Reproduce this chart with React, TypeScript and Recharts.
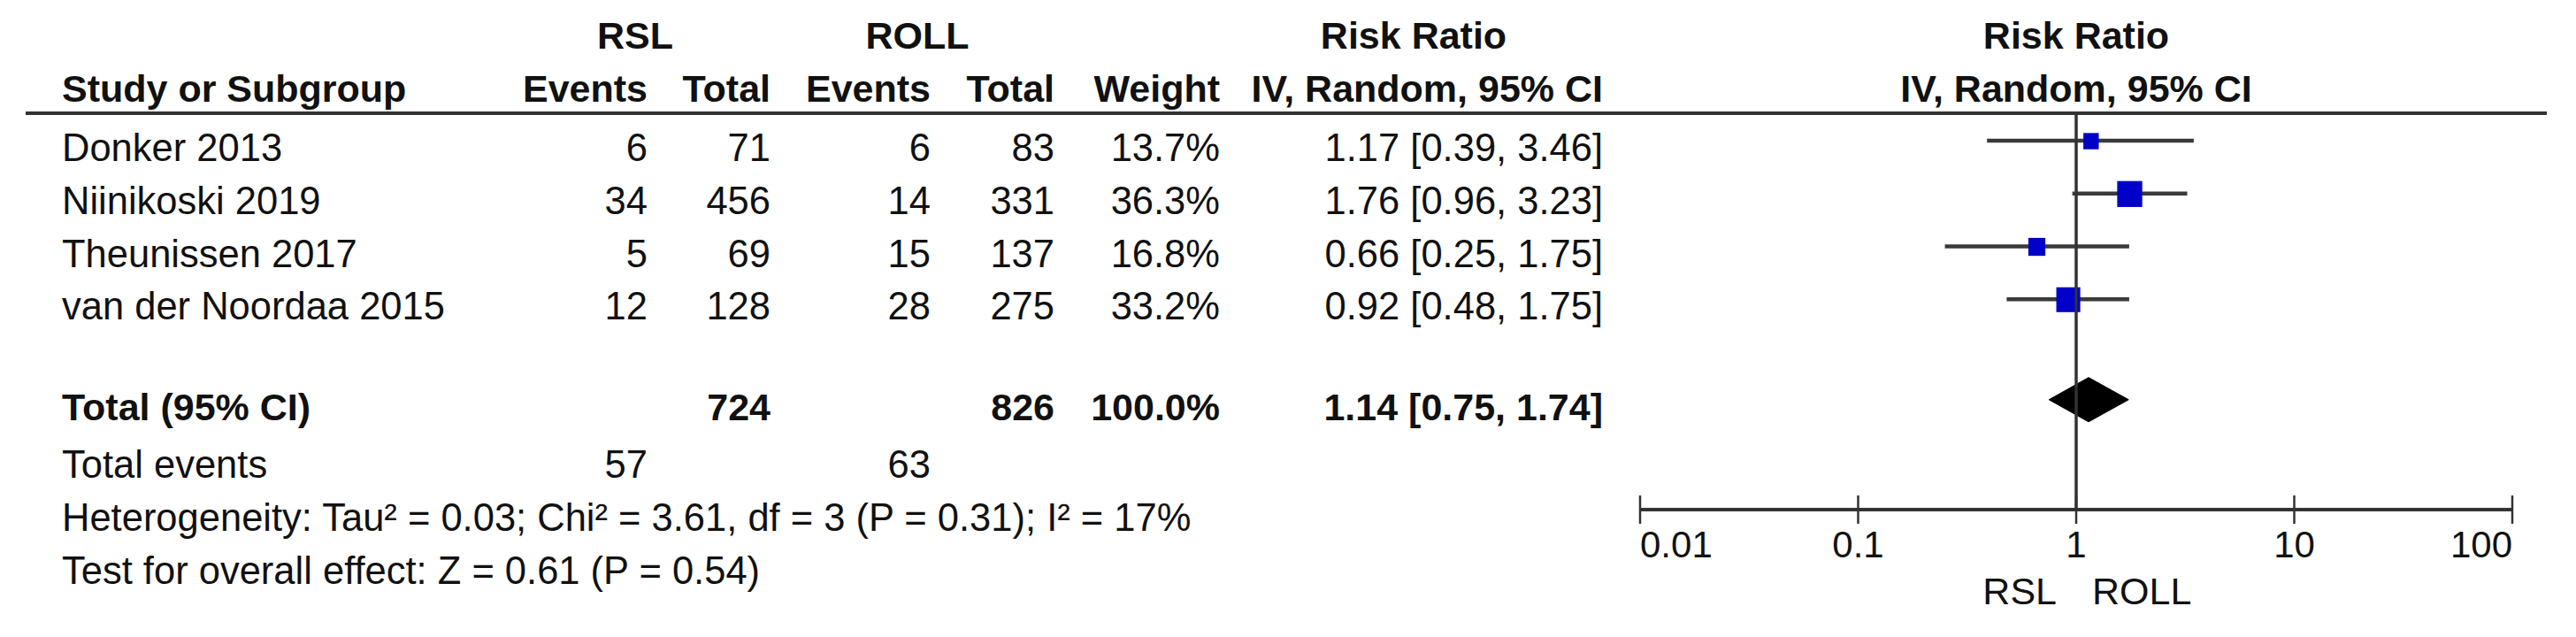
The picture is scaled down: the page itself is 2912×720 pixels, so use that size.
import {
  ComposedChart,
  Scatter,
  Area,
  Line,
  XAxis,
  YAxis,
} from "recharts";

const studies = ["Donker 2013", "Niinikoski 2019", "Theunissen 2017", "van der Noordaa 2015"];
const rslEvents = [6, 34, 5, 12];
const rslTotal = [71, 456, 69, 128];
const rollEvents = [6, 14, 15, 28];
const rollTotal = [83, 331, 137, 275];
const weights = [13.7, 36.3, 16.8, 33.2];
const riskRatio = [1.17, 1.76, 0.66, 0.92];
const ciLow = [0.39, 0.96, 0.25, 0.48];
const ciHigh = [3.46, 3.23, 1.75, 1.75];

const pooledRR = 1.14;
const pooledLow = 0.75;
const pooledHigh = 1.74;
const pooledRslTotal = 724;
const pooledRollTotal = 826;
const totalRslEvents = 57;
const totalRollEvents = 63;
const heterogeneityText = "Heterogeneity: Tau\u00b2 = 0.03; Chi\u00b2 = 3.61, df = 3 (P = 0.31); I\u00b2 = 17%";
const overallText = "Test for overall effect: Z = 0.61 (P = 0.54)";

const axisTicks = [0.01, 0.1, 1, 10, 100];
const noEffect = 1;

// layout
const W = 2912;
const H = 720;
const TOP = 128;
const AXIS_Y = 576;
const LEFT = 1854;
const RIGHT = 72;
const Y_MIN = -0.52;
const Y_MAX = 6.98;
const Y_MID = (Y_MIN + Y_MAX) / 2;
const TOTAL_ROW = 4.9;
const DIAMOND_HALF = 0.42;
const FONT = '"Liberation Sans", Arial, sans-serif';
const LINE = "#333";
const PLOT_H = AXIS_Y - TOP;

const rowPx = (v: number) => TOP + ((v - Y_MIN) * PLOT_H) / (Y_MAX - Y_MIN);
const baseline = (v: number) => rowPx(v) + 23;
// same log mapping as the x axis, used only for the overlay rule
const logPx = (v: number) =>
  LEFT + ((Math.log10(v) - Math.log10(axisTicks[0])) / (Math.log10(axisTicks[axisTicks.length - 1]) - Math.log10(axisTicks[0]))) * (W - RIGHT - LEFT);

const studyData = studies.map((s, i) => ({ x: riskRatio[i], y: i, w: weights[i] }));
const whiskers = studies.map((s, i) => [
  { x: ciLow[i], y: i },
  { x: ciHigh[i], y: i },
]);

const diamondData = [
  { x: pooledLow, band: [TOTAL_ROW, TOTAL_ROW] },
  { x: pooledRR, band: [TOTAL_ROW - DIAMOND_HALF, TOTAL_ROW + DIAMOND_HALF] },
  { x: pooledHigh, band: [TOTAL_ROW, TOTAL_ROW] },
];

// line of no effect: one point at mid height, drawn as a full-height rule
const nullPoint = [{ x: noEffect, y: Y_MID }];

const fmt = (v: number) => v.toFixed(2);
const ciText = (r: number, l: number, h: number) => `${fmt(r)} [${fmt(l)}, ${fmt(h)}]`;

function Square(props: any) {
  const { cx, cy, payload } = props;
  const side = 4.7 * Math.sqrt(payload.w);
  return <rect x={cx - side / 2} y={cy - side / 2} width={side} height={side + 1} fill="#0000c8" />;
}

function NullRule(props: any) {
  const { cx, cy } = props;
  return <rect x={cx - 1.5} y={cy - PLOT_H / 2} width={3} height={PLOT_H} fill={LINE} />;
}

function AxisTick(props: any) {
  const { x, y, payload, index } = props;
  const anchor = index === 0 ? "start" : index === axisTicks.length - 1 ? "end" : "middle";
  return (
    <g>
      <line x1={x} x2={x} y1={y - 16} y2={y + 16} stroke={LINE} strokeWidth={2.5} />
      <text x={x} y={y + 54} textAnchor={anchor} fontSize={42} fontFamily={FONT} fill="#111">
        {payload.value}
      </text>
      {payload.value === noEffect && (
        <g fontSize={43} fontFamily={FONT} fill="#111">
          <text x={x - 22} y={y + 107} textAnchor="end">RSL</text>
          <text x={x + 18} y={y + 107} textAnchor="start">ROLL</text>
        </g>
      )}
    </g>
  );
}

const COL = {
  name: 70,
  rslEv: 732,
  rslTot: 871,
  rollEv: 1052,
  rollTot: 1192,
  weight: 1379,
  ci: 1812,
};

function Table() {
  const t = { fontFamily: FONT, fontSize: 43.5, fill: "#111" };
  const b = { fontFamily: FONT, fontSize: 43, fontWeight: 700, fill: "#111" };
  const yt = baseline(TOTAL_ROW);
  const nx = logPx(noEffect);
  return (
    <svg width={W} height={H} style={{ position: "absolute", left: 0, top: 0, pointerEvents: "none" }}>
      <g {...b}>
        <text x={718} y={55} textAnchor="middle">RSL</text>
        <text x={1037} y={55} textAnchor="middle">ROLL</text>
        <text x={1598} y={55} textAnchor="middle">Risk Ratio</text>
        <text x={nx} y={55} textAnchor="middle">Risk Ratio</text>
        <text x={COL.name} y={115}>Study or Subgroup</text>
        <text x={COL.rslEv} y={115} textAnchor="end">Events</text>
        <text x={COL.rslTot} y={115} textAnchor="end">Total</text>
        <text x={COL.rollEv} y={115} textAnchor="end">Events</text>
        <text x={COL.rollTot} y={115} textAnchor="end">Total</text>
        <text x={COL.weight} y={115} textAnchor="end">Weight</text>
        <text x={COL.ci} y={115} textAnchor="end">IV, Random, 95% CI</text>
        <text x={nx} y={115} textAnchor="middle">IV, Random, 95% CI</text>
      </g>
      <line x1={29} x2={2879} y1={TOP} y2={TOP} stroke={LINE} strokeWidth={4} />
      <line x1={nx} x2={nx} y1={TOP} y2={AXIS_Y} stroke={LINE} strokeWidth={3} />
      {studies.map((s, i) => {
        const y = baseline(i);
        return (
          <g key={s} {...t}>
            <text x={COL.name} y={y}>{s}</text>
            <text x={COL.rslEv} y={y} textAnchor="end">{rslEvents[i]}</text>
            <text x={COL.rslTot} y={y} textAnchor="end">{rslTotal[i]}</text>
            <text x={COL.rollEv} y={y} textAnchor="end">{rollEvents[i]}</text>
            <text x={COL.rollTot} y={y} textAnchor="end">{rollTotal[i]}</text>
            <text x={COL.weight} y={y} textAnchor="end">{weights[i].toFixed(1)}%</text>
            <text x={COL.ci} y={y} textAnchor="end">{ciText(riskRatio[i], ciLow[i], ciHigh[i])}</text>
          </g>
        );
      })}
      <g {...b}>
        <text x={COL.name} y={yt}>Total (95% CI)</text>
        <text x={COL.rslTot} y={yt} textAnchor="end">{pooledRslTotal}</text>
        <text x={COL.rollTot} y={yt} textAnchor="end">{pooledRollTotal}</text>
        <text x={COL.weight} y={yt} textAnchor="end">100.0%</text>
        <text x={COL.ci} y={yt} textAnchor="end">{ciText(pooledRR, pooledLow, pooledHigh)}</text>
      </g>
      <g {...t}>
        <text x={COL.name} y={baseline(6)}>Total events</text>
        <text x={COL.rslEv} y={baseline(6)} textAnchor="end">{totalRslEvents}</text>
        <text x={COL.rollEv} y={baseline(6)} textAnchor="end">{totalRollEvents}</text>
        <text x={COL.name} y={baseline(7)}>{heterogeneityText}</text>
        <text x={COL.name} y={baseline(8)}>{overallText}</text>
      </g>
    </svg>
  );
}

export default function App() {
  return (
    <div style={{ position: "absolute", left: 0, top: 0, width: W, height: H, background: "#fff" }}>
      <ComposedChart width={W} height={H} margin={{ top: TOP, right: RIGHT, bottom: H - AXIS_Y - 100, left: LEFT }}>
        <XAxis
          type="number"
          dataKey="x"
          scale="log"
          domain={[0.01, 100]}
          ticks={axisTicks}
          allowDataOverflow
          height={100}
          tickSize={0}
          tickMargin={0}
          interval={0}
          axisLine={{ stroke: LINE, strokeWidth: 4 }}
          tickLine={false}
          tick={<AxisTick />}
        />
        <YAxis type="number" dataKey="y" hide reversed domain={[Y_MIN, Y_MAX]} allowDataOverflow />
        <Scatter data={nullPoint} shape={<NullRule />} isAnimationActive={false} />
        {whiskers.map((d, i) => (
          <Line
            key={studies[i]}
            data={d}
            dataKey="y"
            type="linear"
            stroke="#3a3a3a"
            strokeWidth={4.5}
            dot={false}
            activeDot={false}
            isAnimationActive={false}
          />
        ))}
        <Scatter data={studyData} shape={<Square />} isAnimationActive={false} />
        <Area
          data={diamondData}
          dataKey="band"
          type="linear"
          fill="#000"
          fillOpacity={1}
          stroke="#000"
          strokeWidth={1}
          dot={false}
          activeDot={false}
          isAnimationActive={false}
        />
      </ComposedChart>
      <Table />
    </div>
  );
}
